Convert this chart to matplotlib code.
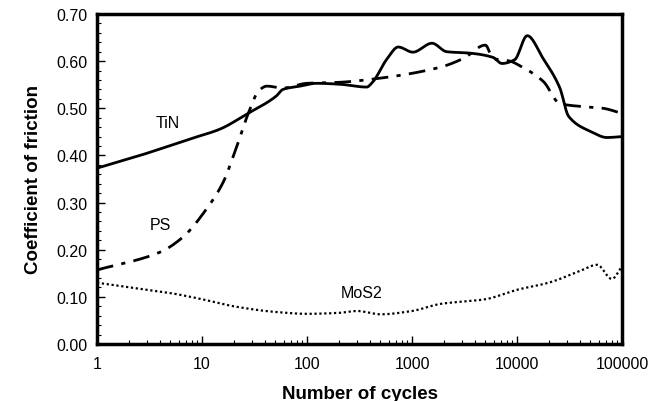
import numpy as np
import matplotlib
matplotlib.use("Agg")
import matplotlib.pyplot as plt
from matplotlib.ticker import FixedLocator, FuncFormatter, MultipleLocator, LogLocator

plt.rcParams['font.family'] = ['Liberation Sans', 'DejaVu Sans']

# TiN (solid line)
tin_x = [1, 2.57, 7.7, 14.9, 26.8, 51, 59, 86, 124, 205, 370, 420, 575, 740, 1020,
         1550, 2140, 3550, 5900, 7200, 9500, 12500, 17800, 25600, 31000, 50000, 72000, 100000]
tin_y = [0.373, 0.400, 0.435, 0.456, 0.488, 0.526, 0.540, 0.547, 0.553, 0.551,
         0.545, 0.555, 0.604, 0.630, 0.619, 0.638, 0.620, 0.617, 0.608, 0.595, 0.603, 0.654,
         0.605, 0.543, 0.483, 0.451, 0.438, 0.440]

# PS (dash-dot line)
ps_x = [1, 4, 6.6, 11, 15.9, 20, 28.6, 34.6, 41.5, 59, 100, 200, 425,
        1850, 3100, 5000, 5900, 8600, 10700, 17800, 25600, 40000, 66000, 100000]
ps_y = [0.157, 0.195, 0.227, 0.286, 0.343, 0.400, 0.498, 0.537, 0.547,
        0.543, 0.553, 0.555, 0.562, 0.587, 0.606, 0.634, 0.606, 0.600, 0.590, 0.557, 0.510,
        0.504, 0.500, 0.489]

# MoS2 (dotted line)
mos_x = [1, 3, 5, 10, 20, 50, 100, 200, 300, 500, 1000, 1860, 5000, 10000, 20000,
         40000, 58000, 80000, 100000]
mos_y = [0.130, 0.115, 0.108, 0.095, 0.080, 0.068, 0.064, 0.066, 0.070, 0.063, 0.070,
         0.085, 0.095, 0.115, 0.130, 0.155, 0.168, 0.138, 0.165]

x_ticks = [1, 10, 100, 1000, 10000, 100000]


def smooth(xs, ys, n=600):
    # monotone cubic (Fritsch-Carlson) in log-x
    lx = np.log10(np.asarray(xs, float))
    yv = np.asarray(ys, float)
    h = np.diff(lx)
    d = np.diff(yv) / h
    m = np.zeros_like(yv)
    m[0], m[-1] = d[0], d[-1]
    for i in range(1, len(yv) - 1):
        if d[i - 1] * d[i] > 0:
            w1 = 2 * h[i] + h[i - 1]
            w2 = h[i] + 2 * h[i - 1]
            m[i] = (w1 + w2) / (w1 / d[i - 1] + w2 / d[i])
    grid = np.linspace(lx[0], lx[-1], n)
    k = np.clip(np.searchsorted(lx, grid) - 1, 0, len(h) - 1)
    t = (grid - lx[k]) / h[k]
    h00 = 2 * t**3 - 3 * t**2 + 1
    h10 = t**3 - 2 * t**2 + t
    h01 = -2 * t**3 + 3 * t**2
    h11 = t**3 - t**2
    out = h00 * yv[k] + h10 * h[k] * m[k] + h01 * yv[k + 1] + h11 * h[k] * m[k + 1]
    return 10 ** grid, out


fig = plt.figure(figsize=(6.63, 4.02), dpi=100)
ax = fig.add_axes([97 / 663, 1 - 345 / 402, 525 / 663, 330 / 402])

x, y = smooth(tin_x, tin_y)
ax.plot(x, y, color='black', lw=2.0, ls='-')
x, y = smooth(ps_x, ps_y)
ax.plot(x, y, color='black', lw=2.0, ls=(0, (6, 3, 1.5, 3)))
x, y = smooth(mos_x, mos_y)
ax.plot(x, y, color='black', lw=1.6, ls=(0, (1, 1.2)))

ax.text(4.7, 0.47, 'TiN', fontsize=11.5, ha='center', va='center')
ax.text(4.0, 0.254, 'PS', fontsize=11.5, ha='center', va='center')
ax.text(330, 0.11, 'MoS2', fontsize=11.5, ha='center', va='center')

ax.set_xscale('log')
ax.set_xlim(1, 100000)
ax.set_ylim(0, 0.70)
ax.xaxis.set_major_locator(FixedLocator(x_ticks))
ax.xaxis.set_major_formatter(FuncFormatter(lambda v, p: '%d' % v))
ax.xaxis.set_minor_locator(LogLocator(base=10, subs=np.arange(2, 10)))
ax.xaxis.set_minor_formatter(FuncFormatter(lambda v, p: ''))
ax.yaxis.set_major_locator(MultipleLocator(0.1))
ax.yaxis.set_minor_locator(MultipleLocator(0.02))
ax.yaxis.set_major_formatter(FuncFormatter(lambda v, p: '%.2f' % v))

ax.tick_params(which='major', direction='in', length=6, width=1, labelsize=11.5)
ax.tick_params(axis='x', which='major', pad=9)
ax.tick_params(axis='y', which='major', pad=7)
ax.tick_params(which='minor', direction='in', length=3, width=0.8)
for s in ax.spines.values():
    s.set_linewidth(2.5)

ax.set_xlabel('Number of cycles', fontsize=13.5, fontweight='bold', labelpad=10)
ax.set_ylabel('Coefficient of friction', fontsize=13.5, fontweight='bold', labelpad=10)

fig.savefig('out.png', dpi=100)
